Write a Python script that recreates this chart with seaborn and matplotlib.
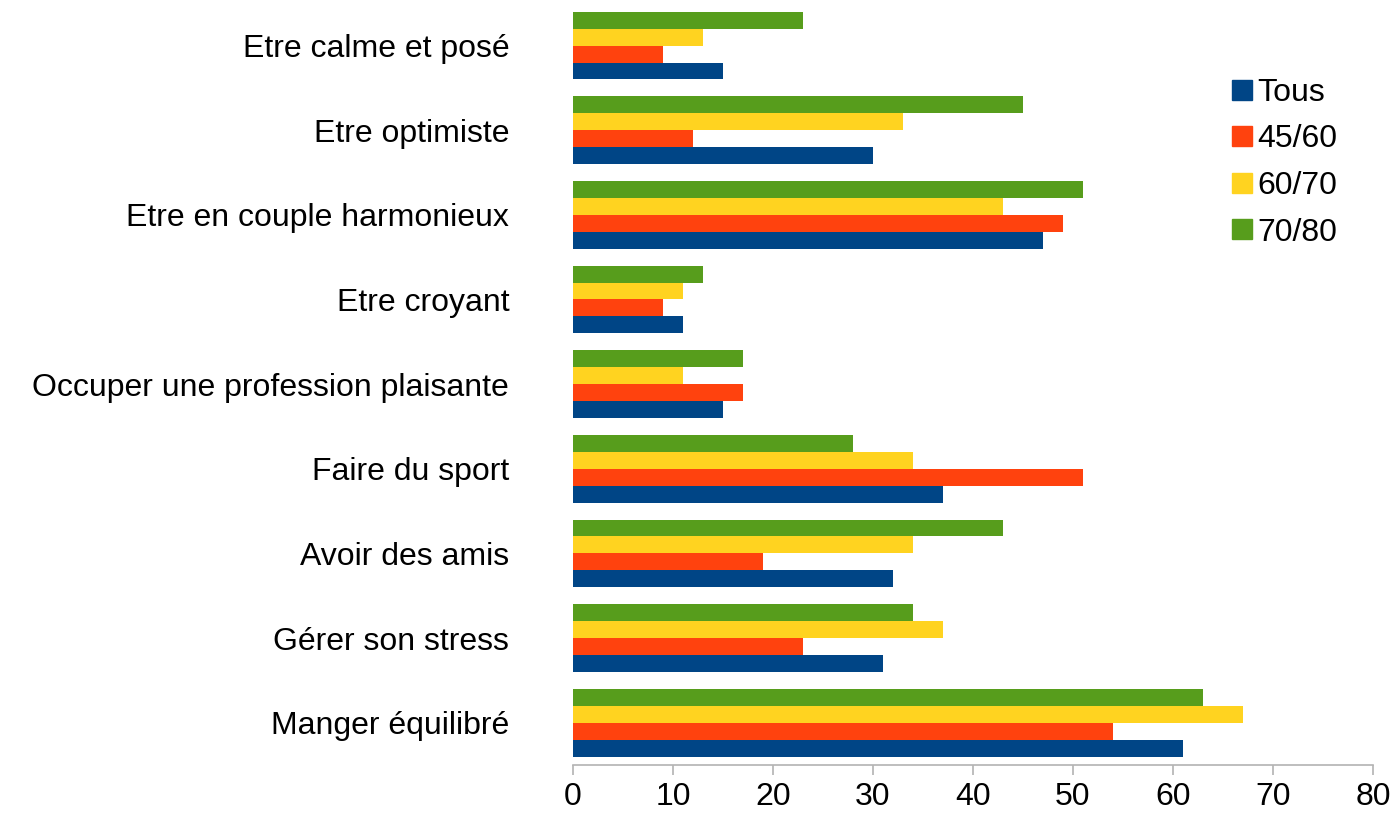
import pandas as pd
import matplotlib
matplotlib.use("Agg")
import matplotlib.pyplot as plt
from matplotlib.lines import Line2D
import seaborn as sns

# Données
categories = [
    "Etre calme et posé",
    "Etre optimiste",
    "Etre en couple harmonieux",
    "Etre croyant",
    "Occuper une profession plaisante",
    "Faire du sport",
    "Avoir des amis",
    "Gérer son stress",
    "Manger équilibré",
]
tous = [15, 30, 47, 11, 15, 37, 32, 31, 61]
g45_60 = [9, 12, 49, 9, 17, 51, 19, 23, 54]
g60_70 = [13, 33, 43, 11, 11, 34, 34, 37, 67]
g70_80 = [23, 45, 51, 13, 17, 28, 43, 34, 63]

series = {"Tous": tous, "45/60": g45_60, "60/70": g60_70, "70/80": g70_80}
colors = {"Tous": "#004586", "45/60": "#ff420e", "60/70": "#ffd320", "70/80": "#579d1c"}

rows = []
for name, vals in series.items():
    for cat, v in zip(categories, vals):
        rows.append({"categorie": cat, "groupe": name, "valeur": v})
df = pd.DataFrame(rows)

sns.set_theme(style="white")
plt.rcParams["font.family"] = ["Liberation Sans", "DejaVu Sans"]
plt.rcParams["text.color"] = "black"

fig = plt.figure(figsize=(13.95, 8.16), dpi=100)
ax = fig.add_axes([0.4108, 0.0625, 0.5734, 0.9335])

# Tous en bas de chaque groupe -> ordre inversé pour le dessin
draw_order = ["70/80", "60/70", "45/60", "Tous"]
sns.barplot(data=df, y="categorie", x="valeur", hue="groupe", hue_order=draw_order,
            order=categories, palette=colors, orient="h", width=0.8, ax=ax,
            legend=False, saturation=1, edgecolor="none")

ax.set_xlim(0, 80)
ax.set_xticks(range(0, 81, 10))
ax.set_xlabel("")
ax.set_ylabel("")

for side in ["top", "right", "left"]:
    ax.spines[side].set_visible(False)
ax.spines["bottom"].set_color("#b3b3b3")
ax.spines["bottom"].set_linewidth(1.2)

ax.tick_params(axis="x", direction="out", length=7, width=1.2, color="#b3b3b3",
               labelsize=23, pad=5, labelcolor="black", bottom=True)
ax.tick_params(axis="y", length=0, labelsize=23, pad=46, labelcolor="black")

handles = [Line2D([0], [0], marker="s", linestyle="none", markersize=14,
                  markerfacecolor=colors[k], markeredgecolor=colors[k])
           for k in series]
leg = ax.legend(handles, list(series.keys()), loc="upper left",
                bbox_to_anchor=(0.78, 0.94), frameon=False, fontsize=23,
                handletextpad=0.0, labelspacing=0.52, handlelength=1.0)
for t in leg.get_texts():
    t.set_color("black")

fig.savefig("out.png", dpi=100)
